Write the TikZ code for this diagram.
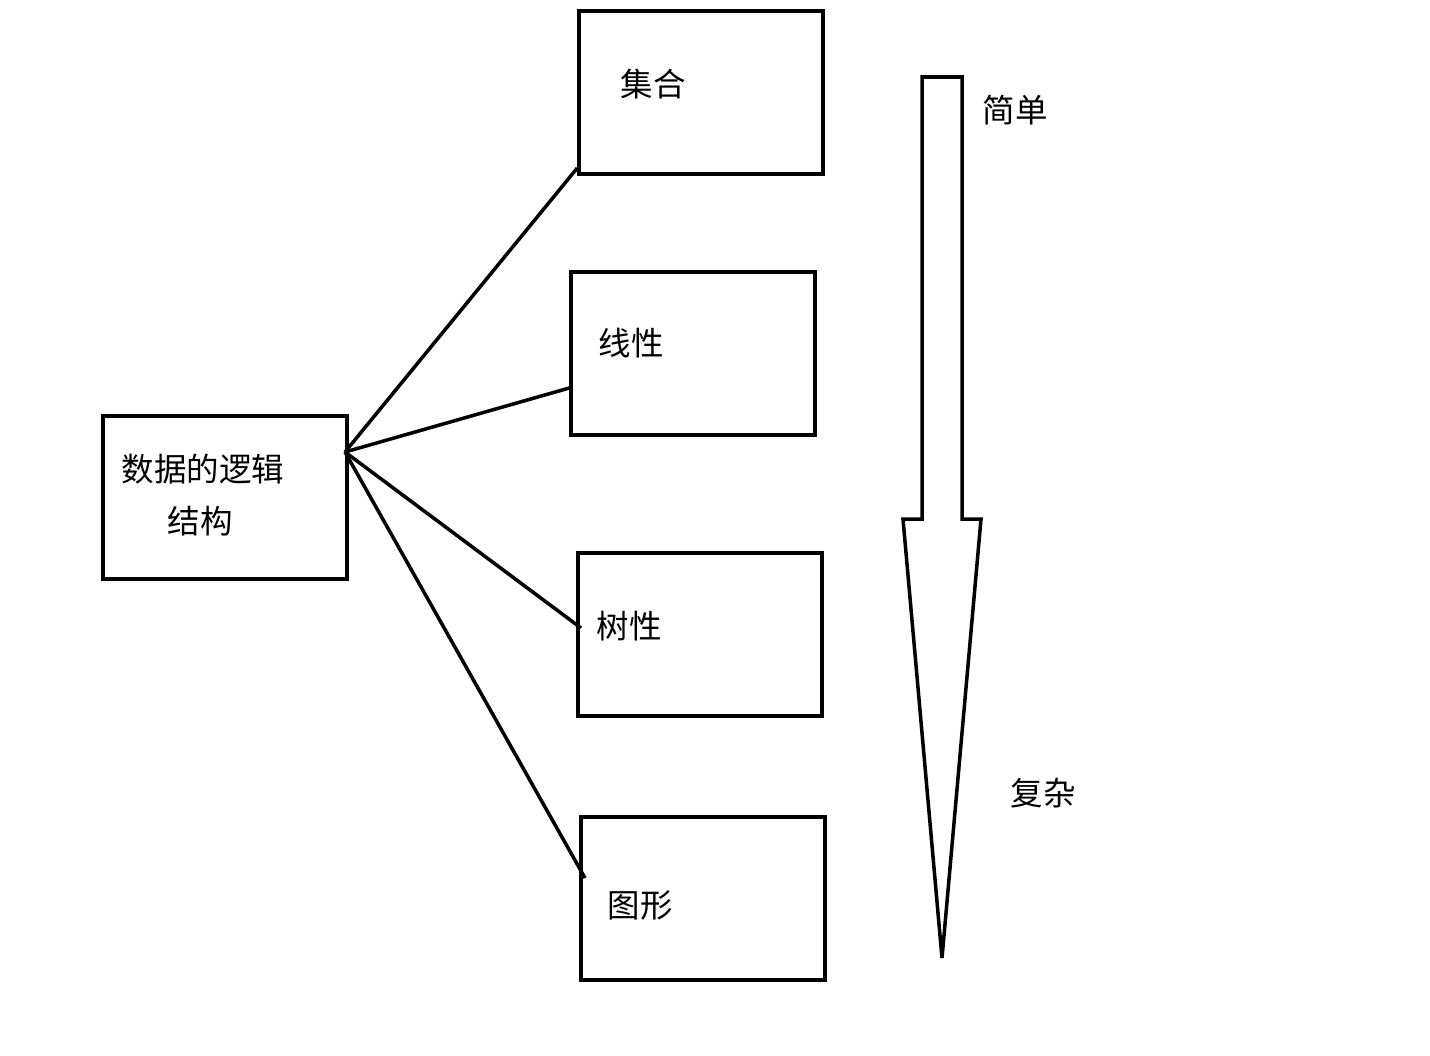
\documentclass[tikz,border=0pt]{standalone}
\usepackage{fontspec}
\newfontfamily\cjk{Noto Sans CJK SC}
\usetikzlibrary{positioning,calc}

\begin{document}
\begin{tikzpicture}[
  x=0.02cm, y=-0.02cm,
  every node/.style={font=\cjk\fontsize{18.5}{22}\selectfont},
  kind/.style={rectangle, draw, line width=2pt, minimum width=4.88cm,
    minimum height=3.26cm, inner sep=0pt},
  label/.style={inner sep=0pt, anchor=center},
  link/.style={line width=2pt}
]
  \useasboundingbox (0,0) rectangle (1430,1055);

  % boxes
  \node[kind] (logic) at (225,497.5) {};
  \node[kind] (set)   at (701,92.5)  {};
  \node[kind] (line)  at (693,353.5) {};
  \node[kind] (tree)  at (700,634.5) {};
  \node[kind] (graph) at (703,898.5) {};

  % texts
  \node[label] (tlogic) at (203,469) {数据的逻辑};
  \node[label] (tlogic2) at (200,521) {结构};
  \node[label] (tset)   at (653,84)  {集合};
  \node[label] (tline)  at (631,343) {线性};
  \node[label] (ttree)  at (629,626) {树性};
  \node[label] (tgraph) at (640,905) {图形};

  % links
  \coordinate (hub) at (345,452);
  \coordinate (pset) at (set.south west |- 0,168);
  \coordinate (pline) at (line.west |- 0,388);
  \coordinate (ptree) at (581,628);
  \coordinate (pgraph) at (585,878);
  \draw[link] (hub) -- (pset);
  \draw[link] (hub) -- (pline);
  \draw[link] (hub) -- (ptree);
  \draw[link] (hub) -- (pgraph);

  % big arrow
  \draw[line width=2pt, line join=miter]
    (922,77) -- (962,77) -- (962,519) -- (981,519) -- (942,958)
    -- (903,519) -- (922,519) -- cycle;
  \node[label] (easy) at (1015,110) {简单};
  \node[label] (hard) at (1043,793) {复杂};
\end{tikzpicture}
\end{document}
